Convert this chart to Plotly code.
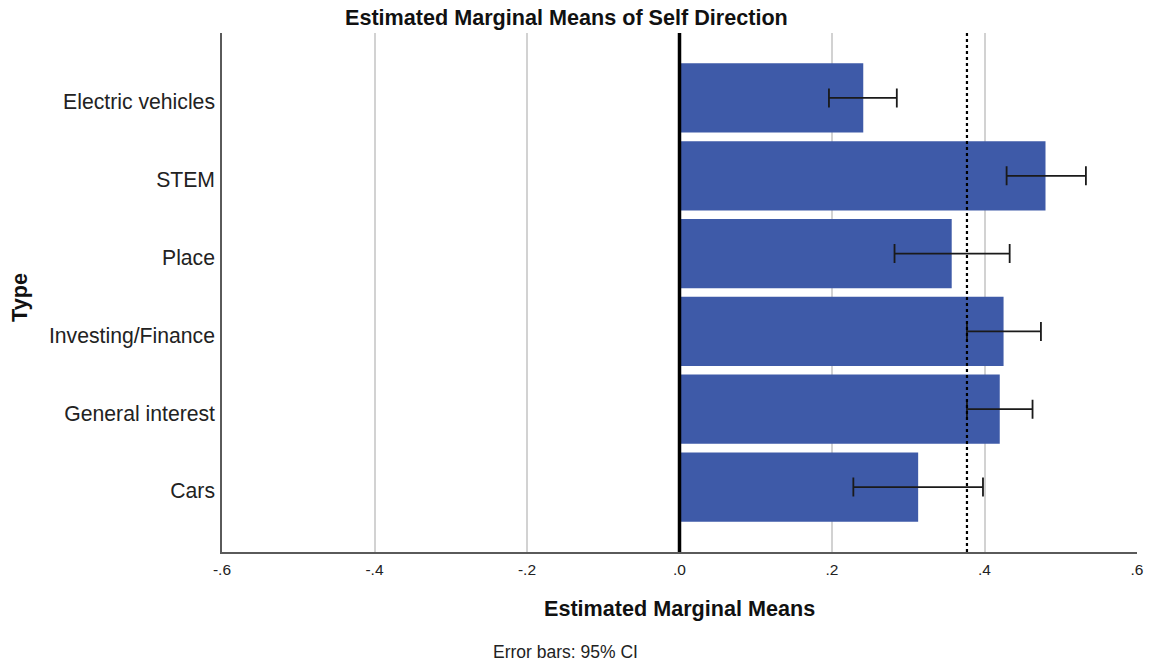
import plotly.graph_objects as go

# Data (top to bottom in the chart)
categories = ["Electric vehicles", "STEM", "Place", "Investing/Finance", "General interest", "Cars"]
means = [0.241, 0.480, 0.357, 0.425, 0.420, 0.313]
ci_low = [0.196, 0.429, 0.282, 0.377, 0.377, 0.228]
ci_high = [0.285, 0.533, 0.433, 0.474, 0.463, 0.398]
grand_mean = 0.377
tick_vals = [-0.6, -0.4, -0.2, 0.0, 0.2, 0.4, 0.6]
tick_text = ["-.6", "-.4", "-.2", ".0", ".2", ".4", ".6"]

FONT = "Liberation Sans, Arial, sans-serif"

err_plus = [h - m for h, m in zip(ci_high, means)]
err_minus = [m - l for m, l in zip(means, ci_low)]

fig = go.Figure()
fig.add_trace(go.Bar(
    y=categories, x=means, orientation="h",
    width=0.89,
    marker=dict(color="#3e5aa8", line=dict(width=0)),
    error_x=dict(type="data", array=err_plus, arrayminus=err_minus,
                 color="#1a1a1a", thickness=1.8, width=9.5, visible=True),
    hoverinfo="skip",
))

# zero reference line and dotted grand-mean line
fig.add_shape(type="line", xref="x", yref="paper", x0=0, x1=0, y0=0, y1=1,
              line=dict(color="black", width=3.5), layer="above")
fig.add_shape(type="line", xref="x", yref="paper", x0=grand_mean, x1=grand_mean, y0=0, y1=1,
              line=dict(color="black", width=2.2, dash="dot"), layer="above")

fig.update_layout(
    width=1155, height=666,
    margin=dict(l=222, r=14, t=33, b=114),
    paper_bgcolor="white", plot_bgcolor="white",
    showlegend=False,
    font=dict(family=FONT, color="#1a1a1a"),
    xaxis=dict(
        range=[-0.6, 0.6], tickvals=tick_vals, ticktext=tick_text,
        showgrid=True, gridcolor="#d2d2d2", gridwidth=1.6,
        zeroline=False,
        showline=True, linecolor="#5a5a5a", linewidth=1.5,
        ticks="outside", ticklen=3, tickcolor="rgba(0,0,0,0)",
        tickfont=dict(size=15.5, color="#222"),
        fixedrange=True,
    ),
    yaxis=dict(
        type="category",
        categoryorder="array", categoryarray=list(reversed(categories)),
        range=[-0.835, 5.835],
        showgrid=False, zeroline=False,
        showline=True, linecolor="#5a5a5a", linewidth=1.5,
        ticks="outside", ticklen=1, tickcolor="rgba(0,0,0,0)",
        ticklabelshift=4,
        tickfont=dict(size=21.2, color="#222"),
        fixedrange=True,
    ),
    annotations=[
        dict(text="<b>Estimated Marginal Means of Self Direction</b>", xref="paper", yref="paper",
             x=(568 - 222) / 919, y=1 + (33 - 18) / 519, xanchor="center", yanchor="middle",
             showarrow=False, font=dict(size=21.6, color="#111")),
        dict(text="<b>Estimated Marginal Means</b>", xref="paper", yref="paper",
             x=0.5, y=-(609 - 552) / 519, xanchor="center", yanchor="middle",
             showarrow=False, font=dict(size=21.6, color="#111")),
        dict(text="<b>Type</b>", xref="paper", yref="paper",
             x=-(222 - 18) / 919, y=1 - (297 - 33) / 519, xanchor="center", yanchor="middle",
             textangle=-90, showarrow=False, font=dict(size=21.6, color="#111")),
        dict(text="Error bars: 95% CI", xref="paper", yref="paper",
             x=(567.5 - 222) / 919, y=-(652 - 552) / 519, xanchor="center", yanchor="middle",
             showarrow=False, font=dict(size=17.5, color="#222")),
    ],
)

fig.write_html("out.html", config={"displayModeBar": False},
               post_script="document.body.style.margin='0';document.body.style.overflow='hidden';")
